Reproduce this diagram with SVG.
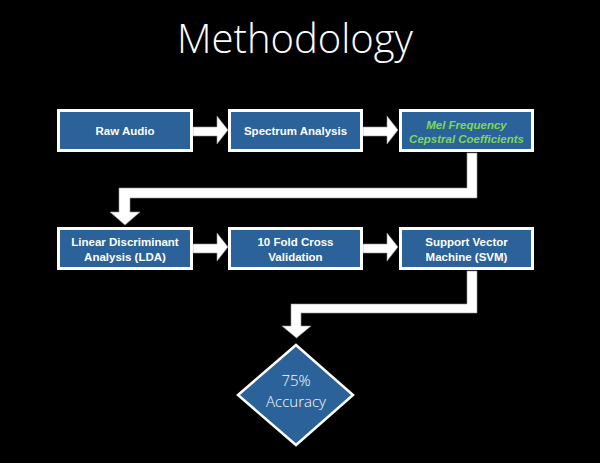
<svg xmlns="http://www.w3.org/2000/svg" width="600" height="463" viewBox="0 0 600 463">
<style>
.box{fill:#2b6299;stroke:#fff;stroke-width:3}
.t{font-family:"Liberation Sans",Arial,sans-serif;font-weight:bold;font-size:11.5px;fill:#fff;text-anchor:middle}
.g{fill:#7ed957;font-style:italic}
.conn{fill:#fff;stroke:#999;stroke-width:0.6}
.d{font-family:"Open Sans","Liberation Sans",Arial,sans-serif;font-weight:300;font-size:15px;fill:#fff;text-anchor:middle}
</style>
<rect width="600" height="463" fill="#000"/>
<text x="295" y="53" font-family="'Open Sans','Liberation Sans',sans-serif" font-weight="300" font-size="40" fill="#fff" text-anchor="middle">Methodology</text>
<g id="connectors">
<path class="conn" d="M193,127 H217 V116 L228,130 L217,144 V136 H193 Z"/>
<path class="conn" d="M363,127 H387 V116 L398,130 L387,144 V136 H363 Z"/>
<path class="conn" d="M193,244 H217 V233 L228,247 L217,261 V253 H193 Z"/>
<path class="conn" d="M363,244 H387 V233 L398,247 L387,261 V253 H363 Z"/>
<path class="conn" d="M467,153 H477 V198 H130 V212 H140 L125,225 L110,212 H119 V188 H467 Z"/>
<path class="conn" d="M467,271 H477 V313 H301 V326 H311 L296.5,338 L282,326 H291 V304 H467 Z"/>
</g>
<g id="raw-audio">
<rect class="box" x="58.5" y="110.5" width="133" height="40"/>
<text class="t" x="125" y="135">Raw Audio</text>
</g>
<g id="spectrum">
<rect class="box" x="229.5" y="110.5" width="132" height="40"/>
<text class="t" x="295.5" y="135">Spectrum Analysis</text>
</g>
<g id="mfcc">
<rect class="box" x="400.5" y="110.5" width="132" height="40"/>
<text class="t g" x="466.5" y="129">Mel Frequency</text>
<text class="t g" x="466.5" y="143">Cepstral Coefficients</text>
</g>
<g id="lda">
<rect class="box" x="58.5" y="228.5" width="133" height="40"/>
<text class="t" x="125" y="246">Linear Discriminant</text>
<text class="t" x="125" y="261">Analysis (LDA)</text>
</g>
<g id="cv">
<rect class="box" x="229.5" y="228.5" width="132" height="40"/>
<text class="t" x="295.5" y="246">10 Fold Cross</text>
<text class="t" x="295.5" y="261">Validation</text>
</g>
<g id="svm">
<rect class="box" x="400.5" y="228.5" width="132" height="40"/>
<text class="t" x="466.5" y="246">Support Vector</text>
<text class="t" x="466.5" y="261">Machine (SVM)</text>
</g>
<g id="accuracy">
<polygon points="296,345 353,395 296,445 238,395" fill="#2b6299" stroke="#fff" stroke-width="2.5"/>
<text class="d" x="296" y="386">75%</text>
<text class="d" x="296" y="407">Accuracy</text>
</g>
</svg>
